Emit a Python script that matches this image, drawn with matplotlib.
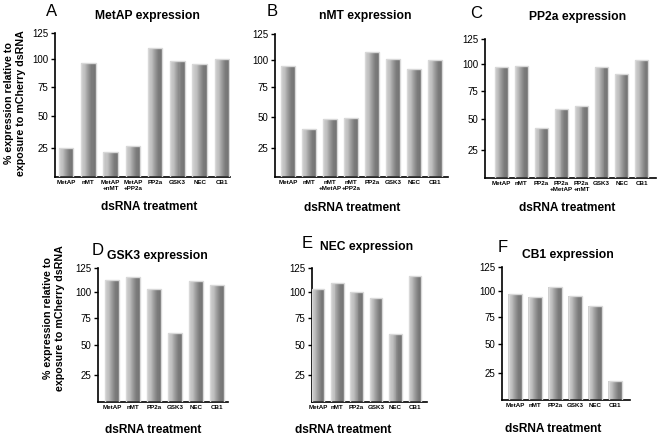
"""
dsRNA knockdown panels A-F: % expression relative to mCherry dsRNA.
Writes out.png (658x436).
"""

import matplotlib
matplotlib.use("Agg")
import matplotlib.pyplot as plt
import numpy as np
from matplotlib.colors import LinearSegmentedColormap

plt.rcParams["font.family"] = ["Liberation Sans", "DejaVu Sans"]

# ---------------------------------------------------------------------------
# Data
# ---------------------------------------------------------------------------

A_LABELS = ["MetAP", "nMT", "MetAP\n+nMT", "MetAP\n+PP2a", "PP2a", "GSK3", "NEC", "CB1"]
A_VALUES = [25, 96.5, 22, 27, 111, 98, 95.5, 100.5]

B_LABELS = ["MetAP", "nMT", "nMT\n+MetAP", "nMT\n+PP2a", "PP2a", "GSK3", "NEC", "CB1"]
B_VALUES = [94.7, 40, 48, 49, 107.7, 101, 91.7, 99.7]

C_LABELS = ["MetAP", "nMT", "PP2a", "PP2a\n+MetAP", "PP2a\n+nMT", "GSK3", "NEC", "CB1"]
C_VALUES = [97.5, 98.8, 43, 59, 62, 97.5, 91, 104]

SIX_LABELS = ["MetAP", "nMT", "PP2a", "GSK3", "NEC", "CB1"]
D_VALUES = [113, 116, 103.5, 61, 112, 108]
E_VALUES = [103.5, 110, 100.3, 95, 60.5, 117]
F_VALUES = [97, 94.5, 104, 95, 85, 18]

Y_TICKS = [25, 50, 75, 100, 125]

# the original y axis is not evenly spaced; tick value -> drawn position
_SCALE_VALS = [0, 25, 50, 75, 100, 125]
_SCALE_POS = [0, 25, 52.75, 78.4, 102.25, 125]

W, H = 658, 436

# ---------------------------------------------------------------------------
# Layout (pixels): axes box, xlim, letter, title, xlabel positions
# ---------------------------------------------------------------------------

PANELS = [
    # letter, title, labels, values, (left, right, top, bottom), xlim, letter xy, title xy, xlabel xy
    ("A", "MetAP expression", A_LABELS, A_VALUES, (55, 230, 33, 177), (-0.5, 7.36), (52, 12), (147, 16), (149, 207)),
    ("B", "nMT expression", B_LABELS, B_VALUES, (275, 448, 34, 177), (-0.62, 7.62), (272, 12), (365, 16), (352, 208)),
    ("C", "PP2a expression", C_LABELS, C_VALUES, (485, 656, 39, 178), (-0.8, 7.7), (476, 14), (578, 17), (567, 208)),
    ("D", "GSK3 expression", SIX_LABELS, D_VALUES, (98, 228, 268, 402), (-0.67, 5.52), (98, 250), (157, 256), (153, 430)),
    ("E", "NEC expression", SIX_LABELS, E_VALUES, (312, 427, 268, 402), (-0.3, 5.62), (307, 243), (367, 247), (343, 430)),
    ("F", "CB1 expression", SIX_LABELS, F_VALUES, (502, 630, 267, 400), (-0.65, 5.75), (503, 247), (568, 255), (553, 429)),
]

YLABEL = "% expression relative to\nexposure to mCherry dsRNA"
YLABEL_POS = [(15, 103), (54, 318)]

BAR_W = 0.65
N_STRIPS = 14
BAR_CMAP = LinearSegmentedColormap.from_list(
    "bar", ["#cdcdcd", "#bfbfbf", "#9a9a9a", "#7c7c7c", "#747474"]
)


def _fwd(v):
    return np.interp(v, _SCALE_VALS, _SCALE_POS)


def _inv(p):
    return np.interp(p, _SCALE_POS, _SCALE_VALS)


def _fx(x):
    return x / W


def _fy(y):
    return 1 - y / H


def _draw_bars(ax, values):
    x = np.arange(len(values))
    sw = BAR_W / N_STRIPS
    for i in range(N_STRIPS):
        off = -BAR_W / 2 + (i + 0.5) * sw
        ax.bar(x + off, values, width=sw * 1.02, color=BAR_CMAP(i / (N_STRIPS - 1)),
               linewidth=0, zorder=2)
    ax.bar(x, values, width=BAR_W, fill=False, edgecolor="#d8d8d8", linewidth=1.0, zorder=3)


def main():
    fig = plt.figure(figsize=(W / 100, H / 100), dpi=100)

    for letter, title, labels, values, box, xlim, lxy, txy, xlxy in PANELS:
        left, right, top, bottom = box
        ax = fig.add_axes([_fx(left), _fy(bottom), (right - left) / W, (bottom - top) / H])
        ax.set_yscale("function", functions=(_fwd, _inv))
        _draw_bars(ax, values)

        ax.set_ylim(0, 125)
        ax.set_xlim(*xlim)
        ax.set_yticks(Y_TICKS)
        ax.set_yticklabels([str(t) for t in Y_TICKS], fontsize=7)
        ax.yaxis.set_minor_locator(matplotlib.ticker.NullLocator())
        ax.set_xticks(np.arange(len(labels)))
        ax.set_xticklabels(labels, fontsize=4.5, fontweight="bold", linespacing=1.1)
        ax.tick_params(axis="x", length=0, pad=2.5)
        ax.tick_params(axis="y", length=3, width=1, pad=2)
        for s in ("top", "right"):
            ax.spines[s].set_visible(False)
        for s in ("left", "bottom"):
            ax.spines[s].set_linewidth(1.2)

        fig.text(_fx(lxy[0]), _fy(lxy[1]), letter, fontsize=12, ha="center", va="center")
        fig.text(_fx(txy[0]), _fy(txy[1]), title, fontsize=8.7, fontweight="bold",
                 ha="center", va="center")
        fig.text(_fx(xlxy[0]), _fy(xlxy[1]), "dsRNA treatment", fontsize=8.6,
                 fontweight="bold", ha="center", va="center")

    for x, y in YLABEL_POS:
        fig.text(_fx(x), _fy(y), YLABEL, fontsize=7.7, fontweight="bold", rotation=90,
                 ha="center", va="center", multialignment="center", linespacing=1.25)

    fig.savefig("out.png", dpi=100)
    plt.close(fig)


if __name__ == "__main__":
    main()
